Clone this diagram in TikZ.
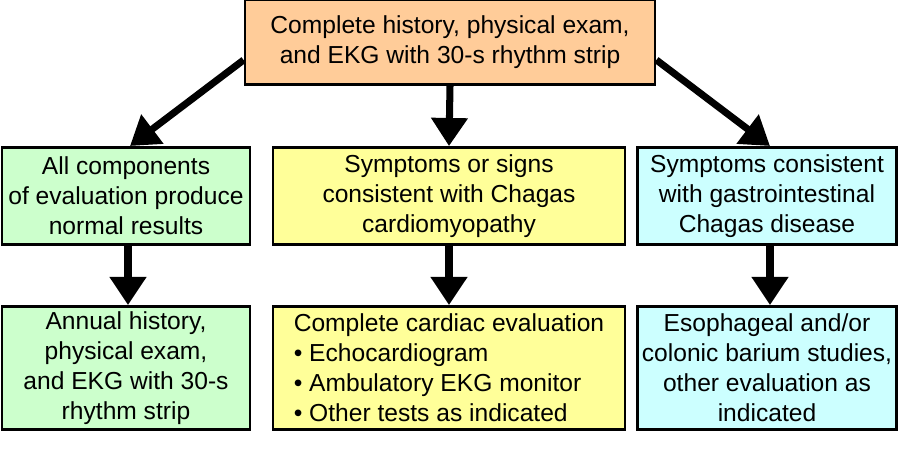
\documentclass[tikz,border=0pt]{standalone}
\usepackage{fontspec}
\setmainfont{Liberation Sans}
\usetikzlibrary{arrows.meta}
\tikzset{box/.style={draw=black, line width=1.6pt, align=center, font=\fontsize{14}{17}\selectfont, inner sep=2pt},
	arr/.style={line width=4pt, -{Triangle[length=16pt, width=20pt]}, shorten >=0pt}}
\begin{document}
\begin{tikzpicture}
		\useasboundingbox (0,0) rectangle (18,9);
		\node (top)[box, fill={rgb,255:red,255;green,204;blue,153}, minimum width=8.2cm, minimum height=1.7cm] at (9,8.16) {Complete history, physical exam,\\and EKG with 30-s rhythm strip};
		%
		\node (normal)[box, fill={rgb,255:red,204;green,255;blue,204}, minimum width=4.96cm, minimum height=1.94cm] at (2.52,5.08) {All components\\of evaluation produce\\normal results};
		\node (cardio)[box, fill={rgb,255:red,255;green,255;blue,153}, minimum width=7.04cm, minimum height=1.94cm] at (8.98,5.08) {Symptoms or signs\\consistent with Chagas\\cardiomyopathy};
		\node (gastro)[box, fill={rgb,255:red,204;green,255;blue,255}, minimum width=5.18cm, minimum height=1.94cm] at (15.34,5.08) {Symptoms consistent\\with gastrointestinal\\Chagas disease};
		%
		\node (annual)[box, fill={rgb,255:red,204;green,255;blue,204}, minimum width=4.96cm, minimum height=2.46cm] at (2.52,1.64) {Annual history,\\physical exam,\\and EKG with 30-s\\rhythm strip};
		\node (cardiac)[box, fill={rgb,255:red,255;green,255;blue,153}, minimum width=7.04cm, minimum height=2.46cm, align=left] at (8.98,1.64) {Complete cardiac evaluation\\\textbullet\ Echocardiogram\\\textbullet\ Ambulatory EKG monitor\\\textbullet\ Other tests as indicated};
		\node (barium)[box, fill={rgb,255:red,204;green,255;blue,255}, minimum width=5.18cm, minimum height=2.46cm] at (15.34,1.64) {Esophageal and/or\\colonic barium studies,\\other evaluation as\\indicated};
		%
		\draw[arr] (top.west |- 0,7.8) -- (2.6,6.08);
		\draw[arr] (top.south) -- (cardio.north);
		\draw[arr] (top.east |- 0,7.8) -- (15.4,6.08);
		\draw[arr] (normal.south -| 2.56,0) -- (annual.north -| 2.56,0);
		\draw[arr] (cardio.south) -- (cardiac.north);
		\draw[arr] (gastro.south -| 15.4,0) -- (barium.north -| 15.4,0);
	\end{tikzpicture}
\end{document}
